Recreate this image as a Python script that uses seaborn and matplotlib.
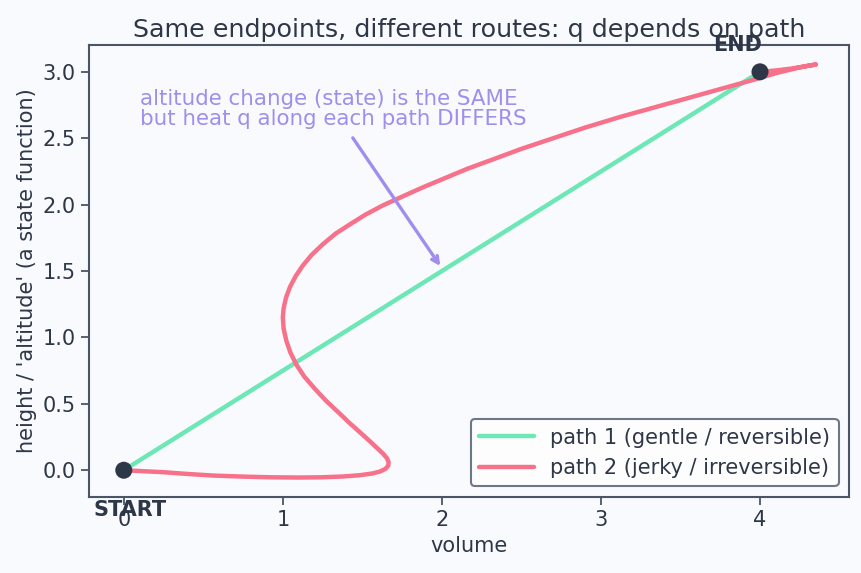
import pandas as pd
import numpy as np
import seaborn as sns
import matplotlib.pyplot as plt

# path 1: straight route between the two states
path1_x = [0.0, 4.0]
path1_y = [0.0, 3.0]

# path 2: wandering route
path2_x = [0.0, 0.10, 0.25, 0.40, 0.56, 0.75, 0.92, 1.10, 1.25, 1.38, 1.48, 1.56,
           1.61, 1.645, 1.663, 1.665, 1.655, 1.63, 1.59, 1.55, 1.49, 1.42, 1.35, 1.27,
           1.20, 1.135, 1.085, 1.048, 1.022, 1.005, 1.0, 1.005, 1.02, 1.045, 1.08, 1.125,
           1.18, 1.25, 1.33, 1.42, 1.52, 1.63, 1.75, 1.88, 2.02, 2.16, 2.32, 2.50,
           2.70, 2.90, 3.12, 3.33, 3.54, 3.75, 3.96, 4.10, 4.22, 4.30, 4.35, 4.30,
           4.20, 4.10, 4.0]
path2_y = [0.0, -0.006, -0.015, -0.028, -0.040, -0.048, -0.053, -0.055, -0.053, -0.047, -0.038, -0.025,
           -0.010, 0.010, 0.035, 0.060, 0.090, 0.125, 0.170, 0.215, 0.280, 0.355, 0.435, 0.525,
           0.615, 0.705, 0.795, 0.885, 0.975, 1.065, 1.150, 1.220, 1.300, 1.380, 1.460, 1.540,
           1.620, 1.700, 1.780, 1.850, 1.925, 1.995, 2.060, 2.130, 2.200, 2.270, 2.340, 2.420,
           2.500, 2.580, 2.660, 2.730, 2.800, 2.870, 2.940, 2.990, 3.025, 3.045, 3.055, 3.045,
           3.025, 3.010, 3.0]

endpoints_x = [0, 4]
endpoints_y = [0, 3]

ink = '#2d3748'
edge = '#4a5568'
green = '#6ee7b7'
red = '#f7718a'
purple = '#9f8eec'
bg = '#f9fafd'

sns.set_theme(style='white')
plt.rcParams['font.family'] = ['DejaVu Sans']

fig, ax = plt.subplots(figsize=(8.62, 5.73), dpi=100)
fig.patch.set_facecolor(bg)
ax.set_facecolor(bg)
fig.subplots_adjust(left=0.103, right=0.985, top=0.921, bottom=0.133)

df1 = pd.DataFrame({'x': path1_x, 'y': path1_y})
df2 = pd.DataFrame({'x': path2_x, 'y': path2_y})

sns.lineplot(data=df1, x='x', y='y', sort=False, estimator=None, color=green, lw=3.2,
             label='path 1 (gentle / reversible)', ax=ax, zorder=2)
sns.lineplot(data=df2, x='x', y='y', sort=False, estimator=None, color=red, lw=3.2,
             label='path 2 (jerky / irreversible)', ax=ax, zorder=3,
             solid_capstyle='round', solid_joinstyle='round')
sns.scatterplot(x=endpoints_x, y=endpoints_y, color=ink, s=150, ax=ax,
                zorder=5, edgecolor='none')

ax.text(0.04, -0.30, 'START', ha='center', va='center', fontsize=15,
        fontweight='bold', color=ink)
ax.text(3.86, 3.2, 'END', ha='center', va='center', fontsize=15,
        fontweight='bold', color=ink)

ax.text(0.10, 2.57, 'altitude change (state) is the SAME\nbut heat q along each path DIFFERS',
        ha='left', va='bottom', fontsize=15.4, color=purple, linespacing=1.0)
ax.annotate('', xy=(2.0, 1.52), xytext=(1.43, 2.52),
            arrowprops=dict(arrowstyle='->', color=purple, lw=2.4))

ax.set_xlim(-0.22, 4.56)
ax.set_ylim(-0.20, 3.20)
ax.set_xticks([0, 1, 2, 3, 4])
ax.set_yticks([0, 0.5, 1.0, 1.5, 2.0, 2.5, 3.0])
ax.set_yticklabels(['0.0', '0.5', '1.0', '1.5', '2.0', '2.5', '3.0'])
ax.set_xlabel('volume', fontsize=15, color=ink)
ax.set_ylabel("height / 'altitude' (a state function)", fontsize=15, color=ink)
ax.set_title('Same endpoints, different routes: q depends on path', fontsize=18.3, color=ink)
ax.tick_params(axis='both', labelsize=15, colors=ink, length=6, width=1.3, color=edge,
               left=True, bottom=True)
for s in ax.spines.values():
    s.set_color(edge)
    s.set_linewidth(1.5)

leg = ax.legend(loc='lower right', fontsize=15, frameon=True, fancybox=True,
                handlelength=2.6)
leg.get_frame().set_edgecolor(edge)
leg.get_frame().set_linewidth(1.5)
leg.get_frame().set_facecolor('white')
for t in leg.get_texts():
    t.set_color(ink)

fig.savefig('out.png', dpi=100, facecolor=bg)
